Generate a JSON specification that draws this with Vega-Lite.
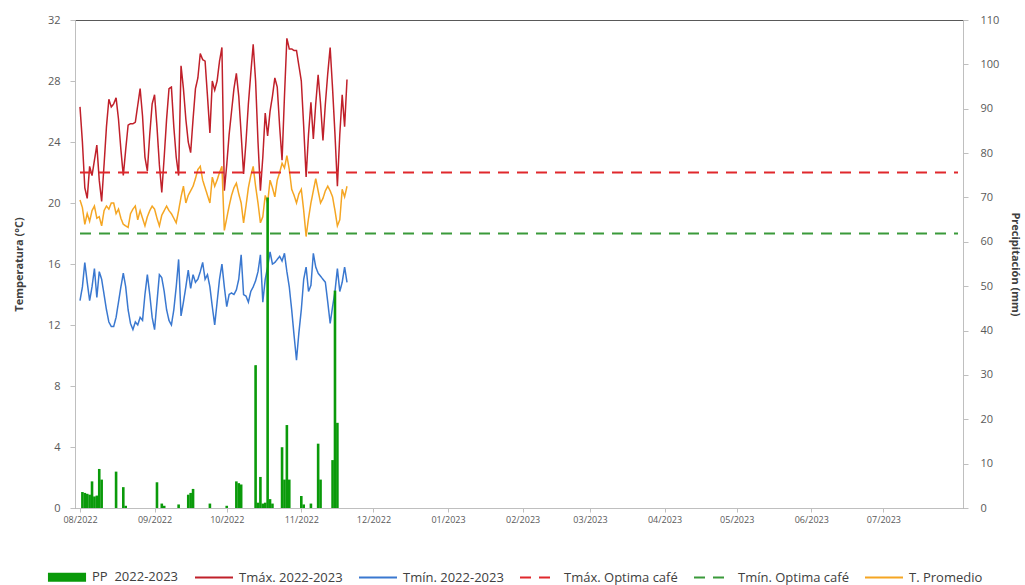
{
  "$schema": "https://vega.github.io/schema/vega-lite/v6.json",
  "width": 888,
  "height": 488,
  "autosize": {"type": "none"},
  "padding": {"left": 75, "top": 20, "right": 62, "bottom": 77},
  "background": "white",
  "config": {
    "font": "Open Sans",
    "view": {"stroke": "#595959", "strokeWidth": 1},
    "axis": {"grid": false, "domainColor": "#bfbfbf", "tickColor": "#bfbfbf", "labelColor": "#595959", "titleColor": "#404040"}
  },
  "datasets": {
    "d": [
      {"f":"2022-08-01","tmax":26.3,"tmin":13.6,"tprom":20.2,"pp":0},
      {"f":"2022-08-02","tmax":24.0,"tmin":14.5,"tprom":19.7,"pp":3.6},
      {"f":"2022-08-03","tmax":21.0,"tmin":16.1,"tprom":18.6,"pp":3.4},
      {"f":"2022-08-04","tmax":20.3,"tmin":14.8,"tprom":19.3,"pp":3.2},
      {"f":"2022-08-05","tmax":22.4,"tmin":13.6,"tprom":18.8,"pp":3.0},
      {"f":"2022-08-06","tmax":21.8,"tmin":14.5,"tprom":19.5,"pp":6.0},
      {"f":"2022-08-07","tmax":22.8,"tmin":15.7,"tprom":19.8,"pp":2.6},
      {"f":"2022-08-08","tmax":23.8,"tmin":13.8,"tprom":19.0,"pp":2.8},
      {"f":"2022-08-09","tmax":21.5,"tmin":15.5,"tprom":19.1,"pp":8.8},
      {"f":"2022-08-10","tmax":20.1,"tmin":15.0,"tprom":18.5,"pp":6.4},
      {"f":"2022-08-11","tmax":22.5,"tmin":14.0,"tprom":19.5,"pp":0},
      {"f":"2022-08-12","tmax":25.0,"tmin":13.0,"tprom":19.8,"pp":0},
      {"f":"2022-08-13","tmax":26.8,"tmin":12.2,"tprom":19.6,"pp":0},
      {"f":"2022-08-14","tmax":26.3,"tmin":11.9,"tprom":20.0,"pp":0},
      {"f":"2022-08-15","tmax":26.5,"tmin":11.9,"tprom":20.0,"pp":0},
      {"f":"2022-08-16","tmax":26.9,"tmin":12.5,"tprom":19.3,"pp":8.2},
      {"f":"2022-08-17","tmax":25.5,"tmin":13.5,"tprom":19.6,"pp":0},
      {"f":"2022-08-18","tmax":23.5,"tmin":14.5,"tprom":19.0,"pp":0},
      {"f":"2022-08-19","tmax":21.8,"tmin":15.4,"tprom":18.6,"pp":4.7},
      {"f":"2022-08-20","tmax":23.5,"tmin":14.5,"tprom":18.5,"pp":0.5},
      {"f":"2022-08-21","tmax":25.1,"tmin":13.0,"tprom":18.4,"pp":0},
      {"f":"2022-08-22","tmax":25.2,"tmin":12.1,"tprom":19.3,"pp":0},
      {"f":"2022-08-23","tmax":25.2,"tmin":11.7,"tprom":19.6,"pp":0},
      {"f":"2022-08-24","tmax":25.3,"tmin":12.2,"tprom":19.8,"pp":0},
      {"f":"2022-08-25","tmax":26.4,"tmin":12.0,"tprom":18.9,"pp":0},
      {"f":"2022-08-26","tmax":27.5,"tmin":12.5,"tprom":19.5,"pp":0},
      {"f":"2022-08-27","tmax":25.7,"tmin":12.3,"tprom":19.0,"pp":0},
      {"f":"2022-08-28","tmax":23.0,"tmin":14.0,"tprom":18.5,"pp":0},
      {"f":"2022-08-29","tmax":22.1,"tmin":15.3,"tprom":19.1,"pp":0},
      {"f":"2022-08-30","tmax":24.5,"tmin":14.0,"tprom":19.5,"pp":0},
      {"f":"2022-08-31","tmax":26.5,"tmin":12.5,"tprom":19.8,"pp":0},
      {"f":"2022-09-01","tmax":27.1,"tmin":11.7,"tprom":19.6,"pp":0},
      {"f":"2022-09-02","tmax":25.0,"tmin":13.5,"tprom":19.0,"pp":5.8},
      {"f":"2022-09-03","tmax":22.5,"tmin":15.3,"tprom":18.5,"pp":0},
      {"f":"2022-09-04","tmax":20.7,"tmin":15.1,"tprom":19.2,"pp":1.0},
      {"f":"2022-09-05","tmax":23.0,"tmin":14.2,"tprom":19.5,"pp":0.5},
      {"f":"2022-09-06","tmax":25.5,"tmin":13.0,"tprom":19.8,"pp":0},
      {"f":"2022-09-07","tmax":27.5,"tmin":12.3,"tprom":19.5,"pp":0},
      {"f":"2022-09-08","tmax":27.6,"tmin":12.0,"tprom":19.3,"pp":0},
      {"f":"2022-09-09","tmax":25.0,"tmin":13.0,"tprom":19.0,"pp":0},
      {"f":"2022-09-10","tmax":23.0,"tmin":14.5,"tprom":18.7,"pp":0},
      {"f":"2022-09-11","tmax":21.8,"tmin":16.3,"tprom":19.5,"pp":0.8},
      {"f":"2022-09-12","tmax":29.0,"tmin":12.6,"tprom":20.4,"pp":0},
      {"f":"2022-09-13","tmax":27.5,"tmin":13.5,"tprom":21.1,"pp":0},
      {"f":"2022-09-14","tmax":25.5,"tmin":14.5,"tprom":20.0,"pp":0},
      {"f":"2022-09-15","tmax":24.0,"tmin":15.6,"tprom":20.5,"pp":3.0},
      {"f":"2022-09-16","tmax":23.3,"tmin":14.4,"tprom":20.8,"pp":3.4},
      {"f":"2022-09-17","tmax":25.5,"tmin":15.3,"tprom":21.1,"pp":4.3},
      {"f":"2022-09-18","tmax":27.5,"tmin":14.8,"tprom":21.6,"pp":0},
      {"f":"2022-09-19","tmax":28.2,"tmin":15.0,"tprom":22.2,"pp":0},
      {"f":"2022-09-20","tmax":29.8,"tmin":15.5,"tprom":22.4,"pp":0},
      {"f":"2022-09-21","tmax":29.4,"tmin":16.1,"tprom":21.5,"pp":0},
      {"f":"2022-09-22","tmax":29.3,"tmin":15.0,"tprom":21.0,"pp":0},
      {"f":"2022-09-23","tmax":27.0,"tmin":15.3,"tprom":20.5,"pp":0},
      {"f":"2022-09-24","tmax":24.6,"tmin":14.5,"tprom":20.0,"pp":1.0},
      {"f":"2022-09-25","tmax":28.0,"tmin":13.2,"tprom":21.7,"pp":0},
      {"f":"2022-09-26","tmax":27.4,"tmin":12.0,"tprom":21.1,"pp":0},
      {"f":"2022-09-27","tmax":28.0,"tmin":13.5,"tprom":21.5,"pp":0},
      {"f":"2022-09-28","tmax":29.3,"tmin":15.0,"tprom":22.0,"pp":0},
      {"f":"2022-09-29","tmax":30.2,"tmin":16.0,"tprom":22.4,"pp":0},
      {"f":"2022-09-30","tmax":20.8,"tmin":14.5,"tprom":18.2,"pp":0},
      {"f":"2022-10-01","tmax":22.5,"tmin":13.2,"tprom":19.0,"pp":0.5},
      {"f":"2022-10-02","tmax":24.5,"tmin":14.0,"tprom":19.8,"pp":0},
      {"f":"2022-10-03","tmax":26.0,"tmin":14.1,"tprom":20.5,"pp":0},
      {"f":"2022-10-04","tmax":27.5,"tmin":14.0,"tprom":21.0,"pp":0},
      {"f":"2022-10-05","tmax":28.5,"tmin":14.3,"tprom":21.3,"pp":6.0},
      {"f":"2022-10-06","tmax":27.0,"tmin":15.0,"tprom":20.6,"pp":5.6},
      {"f":"2022-10-07","tmax":24.5,"tmin":16.6,"tprom":20.0,"pp":5.3},
      {"f":"2022-10-08","tmax":21.9,"tmin":14.0,"tprom":18.7,"pp":0},
      {"f":"2022-10-09","tmax":24.0,"tmin":13.9,"tprom":19.8,"pp":0},
      {"f":"2022-10-10","tmax":26.5,"tmin":13.5,"tprom":21.0,"pp":0},
      {"f":"2022-10-11","tmax":28.5,"tmin":14.2,"tprom":21.8,"pp":0},
      {"f":"2022-10-12","tmax":30.4,"tmin":14.5,"tprom":22.4,"pp":0},
      {"f":"2022-10-13","tmax":28.0,"tmin":14.9,"tprom":21.1,"pp":32.2},
      {"f":"2022-10-14","tmax":24.0,"tmin":15.5,"tprom":20.0,"pp":1.2},
      {"f":"2022-10-15","tmax":20.8,"tmin":16.6,"tprom":18.7,"pp":7.0},
      {"f":"2022-10-16","tmax":23.0,"tmin":13.5,"tprom":19.1,"pp":1.0},
      {"f":"2022-10-17","tmax":25.9,"tmin":15.0,"tprom":20.5,"pp":1.2},
      {"f":"2022-10-18","tmax":24.4,"tmin":15.8,"tprom":20.0,"pp":70.0},
      {"f":"2022-10-19","tmax":26.0,"tmin":16.8,"tprom":21.5,"pp":2.0},
      {"f":"2022-10-20","tmax":27.0,"tmin":16.0,"tprom":21.0,"pp":1.0},
      {"f":"2022-10-21","tmax":28.2,"tmin":16.1,"tprom":20.4,"pp":0},
      {"f":"2022-10-22","tmax":27.6,"tmin":16.3,"tprom":21.5,"pp":0},
      {"f":"2022-10-23","tmax":25.0,"tmin":16.5,"tprom":22.0,"pp":0},
      {"f":"2022-10-24","tmax":22.8,"tmin":16.2,"tprom":22.6,"pp":13.7},
      {"f":"2022-10-25","tmax":27.0,"tmin":16.7,"tprom":22.3,"pp":6.4},
      {"f":"2022-10-26","tmax":30.8,"tmin":15.5,"tprom":23.1,"pp":18.7},
      {"f":"2022-10-27","tmax":30.1,"tmin":14.5,"tprom":22.2,"pp":6.4},
      {"f":"2022-10-28","tmax":30.1,"tmin":13.0,"tprom":20.9,"pp":0},
      {"f":"2022-10-29","tmax":30.0,"tmin":11.3,"tprom":20.5,"pp":0},
      {"f":"2022-10-30","tmax":30.0,"tmin":9.7,"tprom":20.0,"pp":0},
      {"f":"2022-10-31","tmax":29.0,"tmin":11.5,"tprom":20.6,"pp":0},
      {"f":"2022-11-01","tmax":28.0,"tmin":13.0,"tprom":20.9,"pp":2.7},
      {"f":"2022-11-02","tmax":25.0,"tmin":15.0,"tprom":19.5,"pp":0.8},
      {"f":"2022-11-03","tmax":21.7,"tmin":15.8,"tprom":17.8,"pp":0},
      {"f":"2022-11-04","tmax":24.5,"tmin":14.2,"tprom":19.0,"pp":0},
      {"f":"2022-11-05","tmax":26.6,"tmin":14.6,"tprom":20.0,"pp":1.0},
      {"f":"2022-11-06","tmax":24.2,"tmin":16.7,"tprom":20.8,"pp":0},
      {"f":"2022-11-07","tmax":26.5,"tmin":15.8,"tprom":21.6,"pp":0},
      {"f":"2022-11-08","tmax":28.4,"tmin":15.4,"tprom":20.8,"pp":14.5},
      {"f":"2022-11-09","tmax":26.5,"tmin":15.2,"tprom":20.0,"pp":6.4},
      {"f":"2022-11-10","tmax":24.1,"tmin":15.0,"tprom":20.3,"pp":0},
      {"f":"2022-11-11","tmax":26.5,"tmin":14.8,"tprom":20.8,"pp":0},
      {"f":"2022-11-12","tmax":28.5,"tmin":13.5,"tprom":21.1,"pp":0},
      {"f":"2022-11-13","tmax":30.2,"tmin":12.1,"tprom":20.8,"pp":0},
      {"f":"2022-11-14","tmax":27.5,"tmin":13.2,"tprom":20.4,"pp":10.8},
      {"f":"2022-11-15","tmax":24.5,"tmin":14.2,"tprom":19.5,"pp":49.0},
      {"f":"2022-11-16","tmax":21.1,"tmin":15.7,"tprom":18.5,"pp":19.2},
      {"f":"2022-11-17","tmax":24.5,"tmin":14.2,"tprom":18.9,"pp":0},
      {"f":"2022-11-18","tmax":27.1,"tmin":14.8,"tprom":20.9,"pp":0},
      {"f":"2022-11-19","tmax":25.0,"tmin":15.8,"tprom":20.4,"pp":0},
      {"f":"2022-11-20","tmax":28.1,"tmin":14.8,"tprom":21.1,"pp":0}
    ],
    "opt": [
      {"serie":"tmaxopt","f":"2022-08-01","t":22},
      {"serie":"tmaxopt","f":"2023-08-01","t":22},
      {"serie":"tminopt","f":"2022-08-01","t":18},
      {"serie":"tminopt","f":"2023-08-01","t":18}
    ]
  },
  "layer": [
    {
      "layer": [
        {
          "data": {"name": "d"},
          "transform": [{"fold": ["tmax", "tmin", "tprom"], "as": ["serie", "t"]}],
          "mark": {"type": "line", "strokeWidth": 1.5},
          "encoding": {
            "x": {
              "field": "f", "type": "temporal",
              "scale": {"type": "utc", "domain": [{"year": 2022, "month": 8, "date": 1, "utc": true}, {"year": 2023, "month": 8, "date": 1, "utc": true}]},
              "axis": {
                "title": null,
                "labelExpr": "utcFormat(datum.value, '%m/%Y')",
                "values": [
                  {"year": 2022, "month": 8, "date": 1, "utc": true},
                  {"year": 2022, "month": 9, "date": 1, "utc": true},
                  {"year": 2022, "month": 10, "date": 1, "utc": true},
                  {"year": 2022, "month": 11, "date": 1, "utc": true},
                  {"year": 2022, "month": 12, "date": 1, "utc": true},
                  {"year": 2023, "month": 1, "date": 1, "utc": true},
                  {"year": 2023, "month": 2, "date": 1, "utc": true},
                  {"year": 2023, "month": 3, "date": 1, "utc": true},
                  {"year": 2023, "month": 4, "date": 1, "utc": true},
                  {"year": 2023, "month": 5, "date": 1, "utc": true},
                  {"year": 2023, "month": 6, "date": 1, "utc": true},
                  {"year": 2023, "month": 7, "date": 1, "utc": true}
                ],
                "labelFontSize": 9, "tickSize": 4, "labelPadding": 3, "labelOverlap": false
              }
            },
            "y": {
              "field": "t", "type": "quantitative",
              "scale": {"domain": [0, 32], "nice": false},
              "axis": {
                "orient": "left", "title": "Temperatura (°C)",
                "values": [0, 4, 8, 12, 16, 20, 24, 28, 32],
                "labelFontSize": 11, "titleFontSize": 11, "titleFontWeight": "bold",
                "tickSize": 5, "labelPadding": 10, "titlePadding": 23
              }
            },
            "color": {
              "field": "serie", "type": "nominal",
              "scale": {
                "domain": ["pp", "tmax", "tmin", "tmaxopt", "tminopt", "tprom"],
                "range": ["#0a9a0a", "#c0202a", "#3a78d0", "#e0282c", "#3a9a3a", "#f5a623"]
              },
              "legend": {
                "orient": "none", "legendX": -28, "legendY": 537,
                "direction": "horizontal", "title": null,
                "labelExpr": "datum.value === 'pp' ? 'PP\u00a0 2022-2023' : datum.value === 'tmax' ? 'Tmáx. 2022-2023' : datum.value === 'tmin' ? 'Tmín. 2022-2023' : datum.value === 'tmaxopt' ? 'Tmáx. Optima café' : datum.value === 'tminopt' ? 'Tmín. Optima café' : 'T. Promedio'",
                "labelFontSize": 13, "labelColor": "#404040",
                "symbolSize": 1444, "symbolStrokeWidth": 2,
                "columnPadding": 12, "labelOffset": 5,
                "encoding": {
                  "symbols": {
                    "shape": {"value": {"expr": "datum.value === 'pp' ? 'M-0.95,-0.18H0.95V0.18H-0.95Z' : 'stroke'"}},
                    "fill": {"value": {"expr": "datum.value === 'pp' ? '#0a9a0a' : 'transparent'"}},
                    "opacity": {"value": 1}
                  }
                }
              }
            },
            "strokeDash": {
              "field": "serie", "type": "nominal",
              "scale": {
                "domain": ["pp", "tmax", "tmin", "tmaxopt", "tminopt", "tprom"],
                "range": [[1, 0], [1, 0], [1, 0], [11, 8], [11, 8], [1, 0]]
              },
              "legend": {
                "orient": "none", "legendX": -28, "legendY": 537,
                "direction": "horizontal", "title": null,
                "labelExpr": "datum.value === 'pp' ? 'PP\u00a0 2022-2023' : datum.value === 'tmax' ? 'Tmáx. 2022-2023' : datum.value === 'tmin' ? 'Tmín. 2022-2023' : datum.value === 'tmaxopt' ? 'Tmáx. Optima café' : datum.value === 'tminopt' ? 'Tmín. Optima café' : 'T. Promedio'",
                "labelFontSize": 13, "labelColor": "#404040",
                "symbolSize": 1444, "symbolStrokeWidth": 2,
                "columnPadding": 12, "labelOffset": 5
              }
            }
          }
        },
        {
          "data": {"name": "opt"},
          "mark": {"type": "line", "strokeWidth": 2},
          "encoding": {
            "x": {"field": "f", "type": "temporal"},
            "y": {"field": "t", "type": "quantitative"},
            "color": {"field": "serie", "type": "nominal"},
            "strokeDash": {"field": "serie", "type": "nominal"}
          }
        }
      ]
    },
    {
      "data": {"name": "d"},
      "mark": {"type": "bar", "width": 2.6},
      "encoding": {
        "x": {"field": "f", "type": "temporal"},
        "y": {
          "field": "pp", "type": "quantitative",
          "scale": {"domain": [0, 110], "nice": false},
          "axis": {
            "orient": "right", "title": "Precipitación (mm)",
            "values": [0, 10, 20, 30, 40, 50, 60, 70, 80, 90, 100, 110],
            "labelFontSize": 11, "titleFontSize": 11, "titleFontWeight": "bold",
            "tickSize": 5, "labelPadding": 12, "titlePadding": 11
          }
        },
        "color": {"datum": "pp", "type": "nominal"}
      }
    }
  ],
  "resolve": {"scale": {"y": "independent"}}
}
